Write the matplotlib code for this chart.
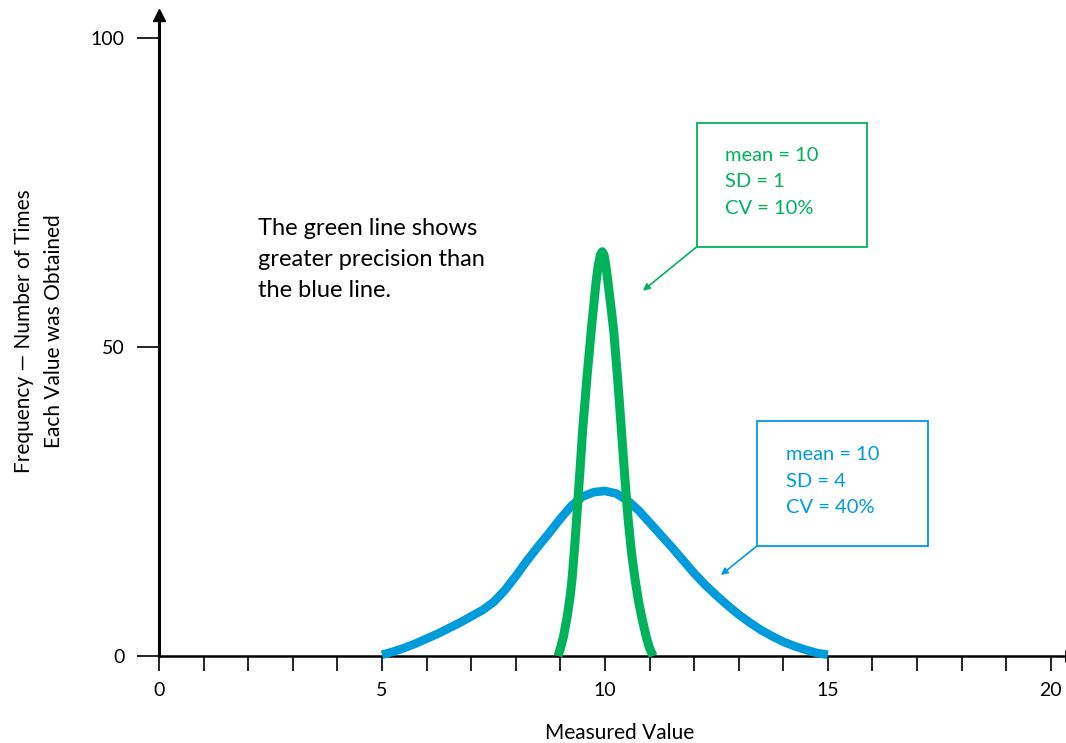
import matplotlib
matplotlib.use("Agg")
import matplotlib.pyplot as plt
from matplotlib.patches import Rectangle

plt.rcParams['font.family'] = ['Lato', 'DejaVu Sans']

# valores
blue_x = [5.0, 5.25, 5.5, 5.75, 6.0, 6.25, 6.5, 6.75, 7.0, 7.25, 7.5, 7.75,
          8.0, 8.25, 8.5, 8.75, 9.0, 9.25, 9.5, 9.75, 10.0, 10.25, 10.5, 10.75,
          11.0, 11.25, 11.5, 11.75, 12.0, 12.25, 12.5, 12.75, 13.0, 13.25, 13.5,
          13.75, 14.0, 14.25, 14.5, 14.75, 15.0]
blue_y = [0.2, 0.7, 1.3, 2.0, 2.8, 3.6, 4.5, 5.4, 6.4, 7.4, 8.7, 10.6,
          12.9, 15.4, 17.7, 19.9, 22.2, 24.3, 25.8, 26.5, 26.7, 26.3, 25.2, 23.6,
          21.6, 19.6, 17.6, 15.5, 13.4, 11.5, 9.8, 8.2, 6.7, 5.4, 4.2,
          3.2, 2.3, 1.6, 1.0, 0.5, 0.2]

green_x = [8.95, 9.0, 9.07, 9.15, 9.22, 9.27, 9.33, 9.40, 9.45, 9.5, 9.6, 9.7,
           9.8, 9.85, 9.9, 9.94, 9.98, 10.02, 10.07, 10.15, 10.2, 10.3, 10.38,
           10.45, 10.52, 10.6, 10.68, 10.75, 10.84, 10.93, 11.0, 11.08]
green_y = [0.0, 1.2, 3.1, 6.2, 9.6, 13.0, 18.5, 25.8, 31.0, 36.5, 45.3, 53.2,
           60.4, 63.2, 64.9, 65.4, 64.9, 63.2, 60.4, 55.6, 52.4, 43.5, 35.5,
           28.5, 22.2, 16.5, 12.2, 9.0, 5.8, 3.0, 1.3, 0.0]

x_major = [0, 5, 10, 15, 20]
y_major = [0, 50, 100]

green_label = "mean = 10\nSD = 1\nCV = 10%"
blue_label = "mean = 10\nSD = 4\nCV = 40%"
note = "The green line shows\ngreater precision than\nthe blue line."

GREEN = '#00B259'
BLUE = '#009BDB'

fig = plt.figure(figsize=(10.66, 7.43), dpi=100)
ax = fig.add_axes([159/1066, 87/743, 907/1066, 641/743])
ax.set_xlim(0, 20.34)
ax.set_ylim(0, 103.7)

ax.plot(blue_x, blue_y, color=BLUE, linewidth=6.2, solid_capstyle='butt',
        solid_joinstyle='round', clip_on=False, zorder=3)
ax.plot(green_x, green_y, color=GREEN, linewidth=6.5, solid_capstyle='butt',
        solid_joinstyle='round', clip_on=False, zorder=4)

# eixos
for s in ['top', 'right']:
    ax.spines[s].set_visible(False)
ax.spines['left'].set_linewidth(2.2)
ax.spines['bottom'].set_linewidth(1.8)
ax.plot([0], [103.7], marker='^', color='black', markersize=9, clip_on=False, zorder=5)
ax.plot([20.34], [0], marker='|', color='black', markersize=9, markeredgewidth=2,
        clip_on=False, zorder=5)

ax.set_xticks(x_major)
ax.set_xticks(range(0, 21), minor=True)
ax.set_yticks(y_major)
ax.tick_params(axis='x', which='both', direction='out', length=11, width=1.2,
               labelsize=14, pad=8)
ax.tick_params(axis='y', direction='out', length=16, width=1.2,
               labelsize=14, pad=9)

# caixas
ax.add_patch(Rectangle((12.06, 66.2), 3.81, 20.0, fill=False, edgecolor=GREEN,
                       linewidth=1.3, clip_on=False))
ax.text(12.69, 76.7, green_label, color=GREEN, fontsize=14.5, ha='left', va='center',
        linespacing=1.7)
ax.annotate('', xy=(10.85, 59.1), xytext=(12.06, 66.2),
            arrowprops=dict(arrowstyle='-|>', color=GREEN, lw=1.2, mutation_scale=10,
                            shrinkA=0, shrinkB=0))

ax.add_patch(Rectangle((13.41, 17.8), 3.83, 20.2, fill=False, edgecolor=BLUE,
                       linewidth=1.3, clip_on=False))
ax.text(14.06, 28.3, blue_label, color=BLUE, fontsize=14.5, ha='left', va='center',
        linespacing=1.7)
ax.annotate('', xy=(12.60, 13.1), xytext=(13.41, 17.8),
            arrowprops=dict(arrowstyle='-|>', color=BLUE, lw=1.2, mutation_scale=10,
                            shrinkA=0, shrinkB=0))

ax.text(2.22, 64.1, note, color='black', fontsize=17, ha='left', va='center',
        linespacing=1.58)

fig.text(39/1066, 1 - 331/743, "Frequency \u2014 Number of Times\nEach Value was Obtained",
         rotation=90, ha='center', va='center', multialignment='center', fontsize=15,
         linespacing=1.65)
fig.text(620/1066, 1 - 733/743, "Measured Value", ha='center', va='center', fontsize=15)

fig.savefig('out.png', dpi=100)
